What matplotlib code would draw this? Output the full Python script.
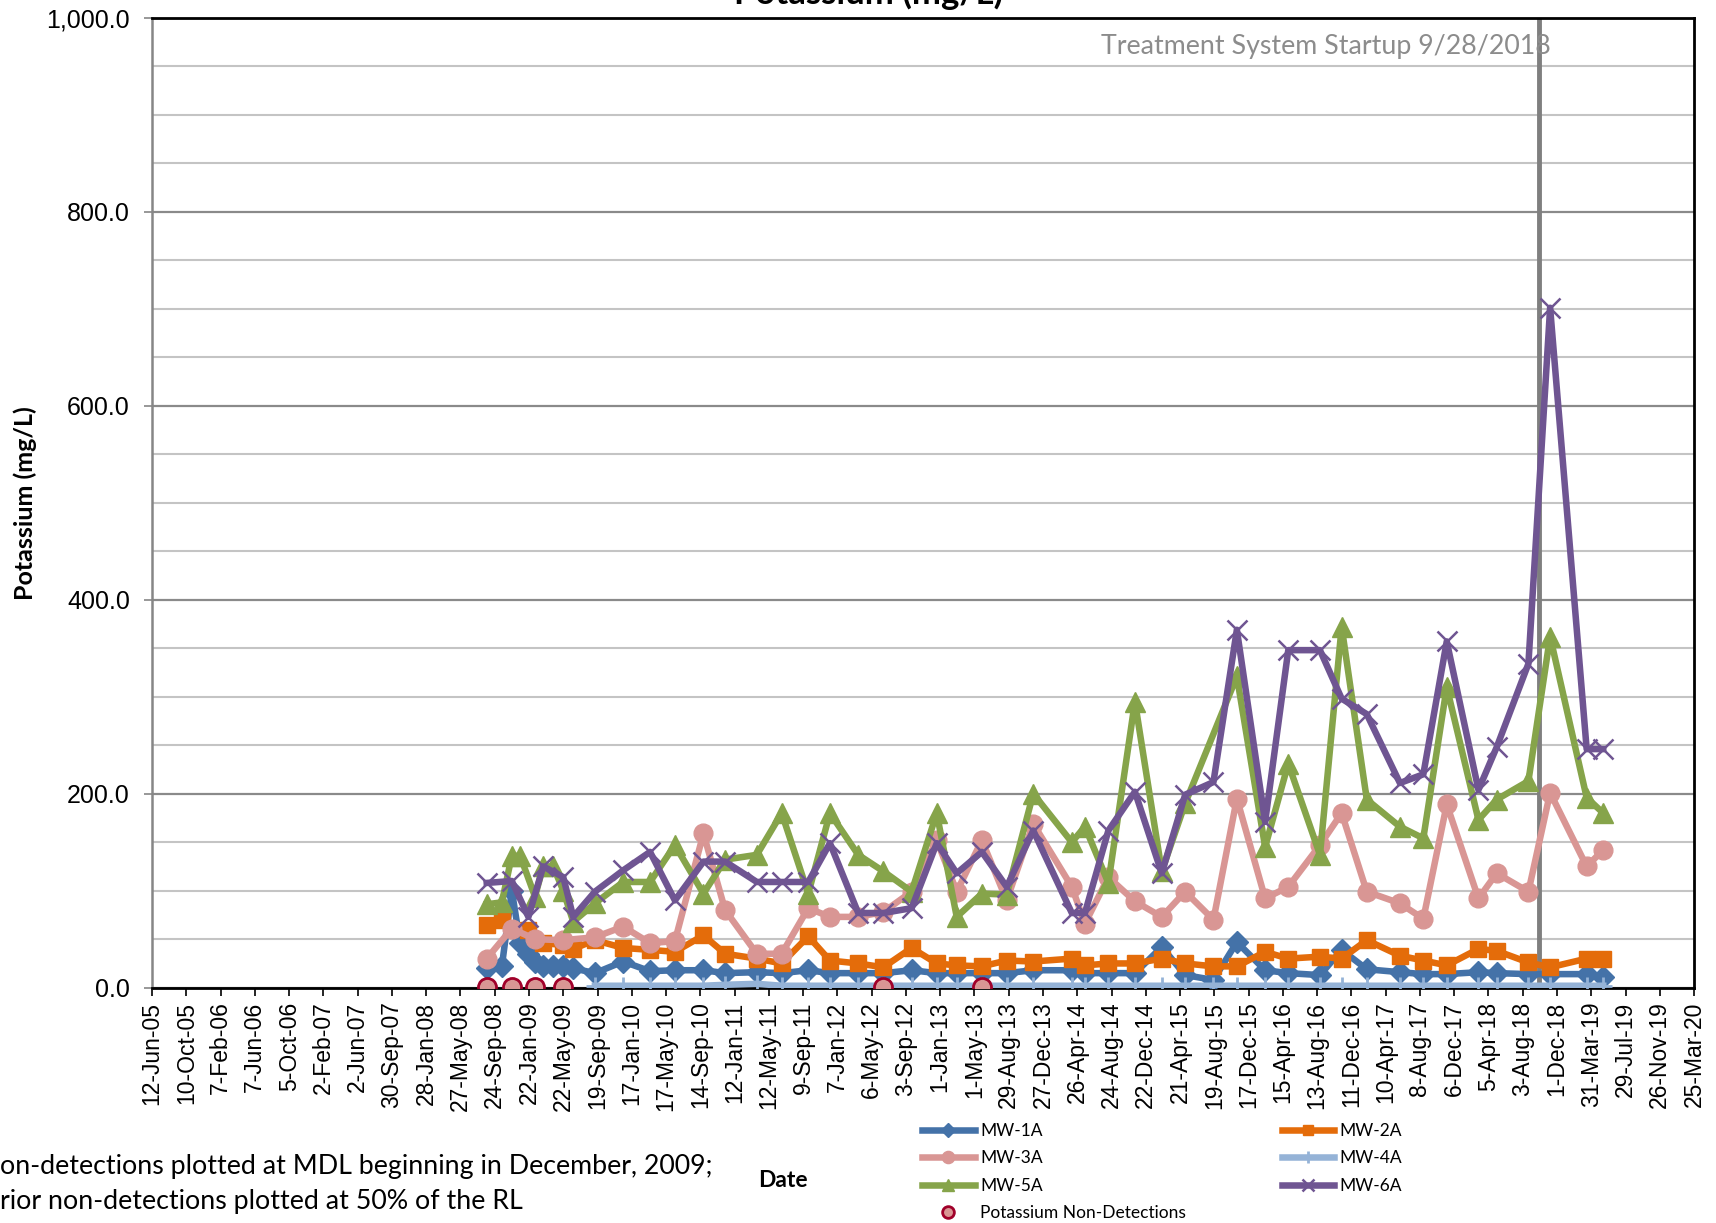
import numpy as np
import pandas as pd
import matplotlib
matplotlib.use("Agg")
import matplotlib.pyplot as plt
from matplotlib.ticker import MultipleLocator, FuncFormatter

# sampling dates (union of all wells); None = no sample for that well
dates = [
    "2008-08-27", "2008-10-19", "2008-11-23", "2008-12-22", "2009-01-20", "2009-02-12",
    "2009-03-13", "2009-04-17", "2009-05-22", "2009-06-26", "2009-09-10",
    "2009-12-18", "2010-03-22", "2010-06-17", "2010-09-25", "2010-12-10", "2011-03-31",
    "2011-06-26", "2011-09-27", "2011-12-12",
    "2012-03-20", "2012-06-16", "2012-09-23", "2012-12-20", "2013-02-28", "2013-05-27",
    "2013-08-22", "2013-11-23",
    "2014-04-07", "2014-05-23", "2014-08-13", "2014-11-14", "2015-02-16", "2015-05-09",
    "2015-08-16", "2015-11-06",
    "2016-02-13", "2016-05-04", "2016-08-23", "2016-11-07", "2017-02-03", "2017-05-30",
    "2017-08-20", "2017-11-10",
    "2018-03-01", "2018-05-04", "2018-08-23", "2018-11-07", "2019-03-15", "2019-05-12",
]

mw1a = [20, 22, 100, 46, 35, 27, 22, 22, 22, 20, 15,
        27, 17, 18, 18, 15, 16, 15, 18, 15,
        15, 15, 18, 15, 15, 15, 15, 18,
        18, 15, 15, 15, 42, 13, 8, 47,
        18, 15, 13, 39, 19, 16, 14, 14,
        16, 15, 14, 14, 14, 11]
mw2a = [65, 70, None, None, 59, None, 46, None, 44, 40, 49,
        41, 39, 37, 54, 35, 30, 25, 53, 28,
        25, 21, 41, 25, 23, 22, 28, 27,
        30, 23, 25, 25, 30, 25, 22, 22,
        37, 30, 32, 30, 49, 33, 28, 23,
        40, 38, 26, 21, 30, 30]
mw3a = [30, None, 61, None, None, 50, None, None, 49, None, 52,
        63, 46, 48, 159, 80, 35, 35, 82, 73,
        73, 78, 99, 152, 99, 152, 90, 169,
        104, 66, 114, 89, 73, 99, 70, 195,
        92, 104, 147, 180, 99, 87, 71, 189,
        92, 118, 99, 201, 125, 142]
mw4a = [None, None, None, None, None, None, None, None, None, None, 2,
        2, 2, 2, 2, 3, 4, 2, 2, 2,
        2, 2, 2, 2, 2, 2, 2, 2,
        2, 2, 2, 2, 2, 2, 2, 2,
        2, 2, 2, 2, 2, 2, 2, 2,
        2, 2, 2, 2, 2, 2]
mw5a = [86, 88, 136, 136, None, 94, 125, 125, 100, 68, 87,
        109, 109, 147, 97, 132, 137, 180, 97, 180,
        137, 120, 99, 180, 73, 97, 96, 200,
        150, 166, 108, 295, 120, 190, None, 321,
        145, 231, 137, 372, 194, 166, 154, 310,
        173, 194, 213, 362, 196, 180]
mw6a = [108, None, 110, None, 73, None, 125, None, 114, 73, 99,
        121, 140, 90, 130, 130, 109, 109, 109, 149,
        77, 77, 82, 149, 118, 140, 104, 162,
        77, 77, 162, 202, 118, 199, 212, 369,
        171, 348, 348, 298, 282, 211, 220, 357,
        204, 248, 334, 701, 246, 246]
non_detect = [0.5, None, 0.5, None, None, 0.5, None, None, 0.5, None, None,
              None, None, None, None, None, None, None, None, None,
              None, 0.5, None, None, None, 0.5, None, None,
              None, None, None, None, None, None, None, None,
              None, None, None, None, None, None, None, None,
              None, None, None, None, None, None]

startup = pd.Timestamp("2018-09-28")
x = pd.to_datetime(dates).to_numpy()

plt.rcParams["font.family"] = ["Lato", "DejaVu Sans"]

fig = plt.figure(figsize=(17.16, 12.23), dpi=100)
ax = fig.add_axes([0.0886, 0.1924, 0.8986, 0.7931])


def draw(vals, **kw):
    y = np.array([np.nan if v is None else v for v in vals], dtype=float)
    m = ~np.isnan(y)
    return ax.plot(x[m], y[m], **kw)[0]


lw = 4.7
h1 = draw(mw1a, color="#4472A8", lw=lw, marker="D", ms=11, label="MW-1A", zorder=3)
h2 = draw(mw2a, color="#E46C0A", lw=lw, marker="s", ms=12, label="MW-2A", zorder=3)
h3 = draw(mw3a, color="#D99694", lw=lw, marker="o", ms=13.5, label="MW-3A", zorder=3)
h4 = draw(mw4a, color="#95B3D7", lw=lw, marker="+", ms=13, mew=2, label="MW-4A", zorder=3)
h5 = draw(mw5a, color="#86A44A", lw=lw, marker="^", ms=14, label="MW-5A", zorder=3)
h6 = draw(mw6a, color="#6F5592", lw=lw, marker="x", ms=14, mew=1.8, label="MW-6A", zorder=3)
hnd = draw(non_detect, ls="none", marker="o", ms=13, mfc="#D99694", mec="#A0002A",
           mew=2, label="Potassium Non-Detections", zorder=4)

ax.axvline(startup, color="#7F7F7F", lw=3.5, zorder=2)
ax.text(startup + pd.Timedelta(days=42), 970, "Treatment System Startup 9/28/2018",
        ha="right", va="center", fontsize=19.3, color="#8C8C8C", zorder=2)

# axes
start = pd.Timestamp("2005-06-12")
ticks = pd.date_range(start, periods=46, freq="120D")
ax.set_xlim(ticks[0], ticks[-1])
ax.set_xticks(ticks, labels=[f"{d.day}-{d:%b-%y}" for d in ticks], rotation=90)
ax.set_ylim(0, 1000)
ax.yaxis.set_major_locator(MultipleLocator(200))
ax.yaxis.set_minor_locator(MultipleLocator(50))
ax.yaxis.set_major_formatter(FuncFormatter(lambda v, p: f"{v:,.1f}"))

ax.grid(which="minor", axis="y", color="#C4C4C4", lw=1.5, zorder=0)
ax.grid(which="major", axis="y", color="#8A8A8A", lw=1.6, zorder=0)
ax.set_axisbelow(True)

for lab in ax.get_xticklabels():
    lab.set_family("Liberation Sans")
    lab.set_fontsize(16.5)
for lab in ax.get_yticklabels():
    lab.set_family("Liberation Sans")
    lab.set_fontsize(18)
ax.tick_params(axis="x", direction="out", length=6, width=1.2, color="black", pad=4)
ax.tick_params(axis="y", which="major", direction="out", length=6, width=1.2,
               color="#868686", pad=10)
ax.tick_params(axis="y", which="minor", length=0)

ax.spines["left"].set_color("#868686")
ax.spines["left"].set_linewidth(1.8)
for s in ("top", "right", "bottom"):
    ax.spines[s].set_color("black")
    ax.spines[s].set_linewidth(2)

fig.text(0.506, 1 - 4.5 / 1223, "Potassium (mg/L)", ha="center", va="baseline",
         fontsize=25, fontweight="bold")
fig.text(0.0145, 0.589, "Potassium (mg/L)", rotation=90, ha="center", va="center",
         fontsize=18, fontweight="bold")
fig.text(0.456, 0.035, "Date", ha="center", va="center", fontsize=16.5, fontweight="bold")
fig.text(0.0, 0.0466, "on-detections plotted at MDL beginning in December, 2009;",
         ha="left", va="center", fontsize=19.3)
fig.text(0.0, 0.0176, "rior non-detections plotted at 50% of the RL",
         ha="left", va="center", fontsize=19.3)

fig.legend([h1, h3, h5, hnd, h2, h4, h6],
           ["MW-1A", "MW-3A", "MW-5A", "Potassium Non-Detections", "MW-2A", "MW-4A", "MW-6A"],
           ncol=2, loc="upper left", bbox_to_anchor=(922 / 1716, 1 - 1123 / 1223),
           frameon=False, fontsize=12.5, handlelength=3.05, handletextpad=0.3,
           columnspacing=5.5, labelspacing=0.66, borderpad=0, borderaxespad=0,
           markerscale=0.65)

fig.savefig("out.png", dpi=100)
